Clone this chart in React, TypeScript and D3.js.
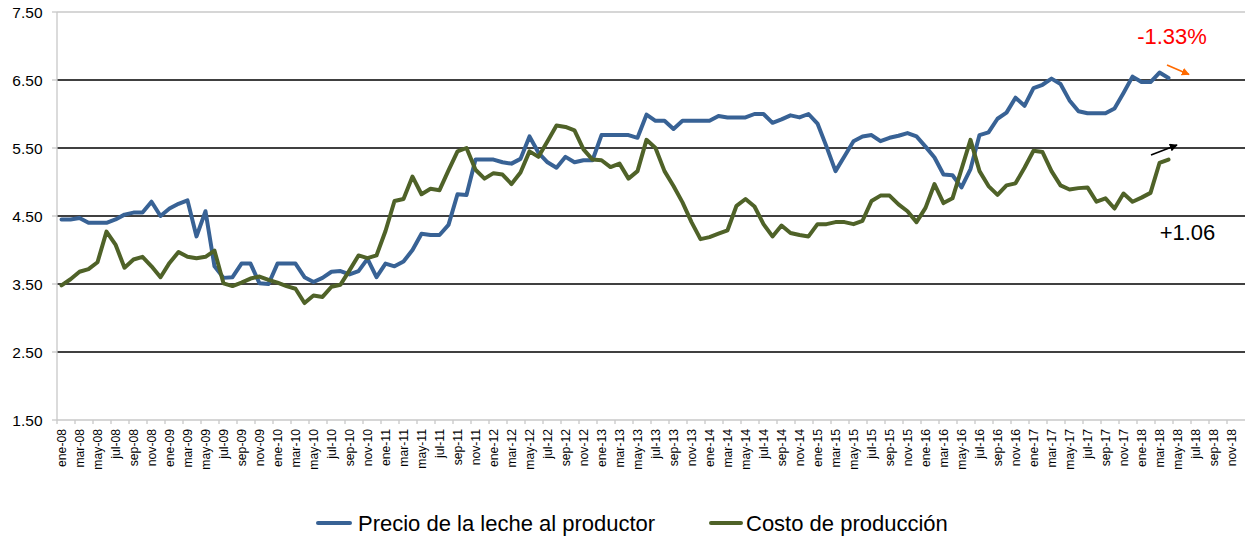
import React from "react";
import * as d3 from "d3";

const monthNames = ["ene", "feb", "mar", "abr", "may", "jun", "jul", "ago", "sep", "oct", "nov", "dic"];
const years = ["08", "09", "10", "11", "12", "13", "14", "15", "16", "17", "18"];
const categories: string[] = years.flatMap((y) => monthNames.map((m) => `${m}-${y}`));

const yTicks = [1.5, 2.5, 3.5, 4.5, 5.5, 6.5, 7.5];
const gridValues = [2.5, 3.5, 4.5, 5.5, 6.5];

const precio = [
  4.45, 4.45, 4.47, 4.40, 4.40, 4.40, 4.45, 4.52, 4.55, 4.55, 4.71, 4.50,
  4.61, 4.68, 4.73, 4.20, 4.57, 3.76, 3.59, 3.60, 3.80, 3.80, 3.51, 3.50,
  3.80, 3.80, 3.80, 3.60, 3.53, 3.59, 3.68, 3.69, 3.64, 3.69, 3.87, 3.60,
  3.80, 3.76, 3.83, 4.00, 4.24, 4.22, 4.22, 4.37, 4.82, 4.81, 5.33, 5.33,
  5.33, 5.29, 5.27, 5.34, 5.67, 5.43, 5.29, 5.21, 5.37, 5.29, 5.32, 5.32,
  5.69, 5.69, 5.69, 5.69, 5.65, 5.99, 5.90, 5.90, 5.78, 5.90, 5.90, 5.90,
  5.90, 5.97, 5.95, 5.95, 5.95, 6.00, 6.00, 5.87, 5.92, 5.98, 5.95, 6.00,
  5.86, 5.52, 5.16, 5.38, 5.60, 5.67, 5.69, 5.60, 5.65, 5.68, 5.72, 5.67,
  5.52, 5.36, 5.11, 5.10, 4.92, 5.19, 5.69, 5.73, 5.93, 6.02, 6.24, 6.12,
  6.38, 6.43, 6.52, 6.44, 6.20, 6.04, 6.01, 6.01, 6.01, 6.08, 6.31, 6.55,
  6.47, 6.47, 6.61, 6.53,
];

const costo = [
  3.48, 3.57, 3.68, 3.72, 3.82, 4.27, 4.08, 3.74, 3.86, 3.90, 3.76, 3.60,
  3.81, 3.97, 3.90, 3.88, 3.90, 3.99, 3.51, 3.47, 3.52, 3.58, 3.61, 3.56,
  3.52, 3.47, 3.43, 3.22, 3.33, 3.31, 3.46, 3.49, 3.70, 3.92, 3.88, 3.92,
  4.28, 4.72, 4.75, 5.08, 4.82, 4.90, 4.88, 5.17, 5.45, 5.50, 5.18, 5.05,
  5.13, 5.11, 4.97, 5.14, 5.45, 5.37, 5.60, 5.83, 5.81, 5.76, 5.48, 5.33,
  5.32, 5.22, 5.27, 5.05, 5.16, 5.62, 5.50, 5.16, 4.94, 4.70, 4.41, 4.16,
  4.19, 4.24, 4.29, 4.65, 4.75, 4.64, 4.38, 4.20, 4.36, 4.25, 4.22, 4.20,
  4.38, 4.38, 4.41, 4.41, 4.38, 4.43, 4.72, 4.80, 4.80, 4.67, 4.57, 4.41,
  4.62, 4.97, 4.69, 4.76, 5.19, 5.62, 5.16, 4.94, 4.81, 4.95, 4.98, 5.21,
  5.46, 5.44, 5.16, 4.95, 4.89, 4.91, 4.92, 4.71, 4.76, 4.61, 4.83, 4.71,
  4.77, 4.84, 5.28, 5.33,
];

const seriesNames = ["Precio de la leche al productor", "Costo de producción"];
const seriesColors = ["#386295", "#4F6228"];

const W = 1245;
const H = 540;
const FONT = "'Liberation Sans', Arial, sans-serif";

export default function App() {
  const x = d3.scaleBand<string>().domain(categories).range([57, 1245]).paddingInner(0).paddingOuter(0);
  const y = d3.scaleLinear().domain([1.5, 7.5]).range([420, 12]);
  const cx = (i: number) => (x(categories[i]) as number) + x.bandwidth() / 2;

  const line = d3
    .line<number>()
    .x((_, i) => cx(i))
    .y((d) => y(d));

  const series = [precio, costo];

  return (
    <svg
      width={W}
      height={H}
      style={{ position: "absolute", left: 0, top: 0, background: "#fff" }}
      fontFamily={FONT}
    >
      <defs>
        <marker id="arrOrange" viewBox="0 0 10 10" refX="9" refY="5" markerWidth="5" markerHeight="5" orient="auto">
          <path d="M0,0 L10,5 L0,10 z" fill="#FF6A00" />
        </marker>
        <marker id="arrBlack" viewBox="0 0 10 10" refX="9" refY="5" markerWidth="5" markerHeight="5" orient="auto">
          <path d="M0,0 L10,5 L0,10 z" fill="#000" />
        </marker>
      </defs>
      <rect x={0} y={0} width={W} height={H} fill="#fff" />

      {/* plot frame top and axes */}
      <line x1={57} x2={1245} y1={y(7.5)} y2={y(7.5)} stroke="#c8c8c8" strokeWidth={1.3} />
      {gridValues.map((v) => (
        <line key={v} x1={57} x2={1245} y1={y(v)} y2={y(v)} stroke="#000" strokeWidth={1.3} />
      ))}
      <line x1={57} x2={1245} y1={y(1.5)} y2={y(1.5)} stroke="#c8c8c8" strokeWidth={1.3} />
      <line x1={57} x2={57} y1={y(7.5)} y2={y(1.5)} stroke="#c8c8c8" strokeWidth={1.3} />

      {/* y ticks */}
      {yTicks.map((v) => (
        <g key={v}>
          <line x1={52} x2={57} y1={y(v)} y2={y(v)} stroke="#c8c8c8" strokeWidth={1.3} />
          <text x={42.5} y={y(v)} dy="0.36em" textAnchor="end" fontSize={15.5} fill="#000">
            {v.toFixed(2)}
          </text>
        </g>
      ))}

      {/* x ticks and labels */}
      {categories.map((c, i) =>
        i % 2 === 0 ? (
          <g key={c}>
            <line x1={x(c)} x2={x(c)} y1={420} y2={424} stroke="#c8c8c8" strokeWidth={1.3} />
            <text
              transform={`translate(${cx(i)},429) rotate(-90)`}
              textAnchor="end"
              dy="0.35em"
              fontSize={12.2}
              fill="#000"
            >
              {c}
            </text>
          </g>
        ) : null
      )}

      {/* series */}
      {series.map((s, k) => (
        <path
          key={k}
          d={line(s) || ""}
          fill="none"
          stroke={seriesColors[k]}
          strokeWidth={4}
          strokeLinejoin="round"
          strokeLinecap="round"
        />
      ))}

      {/* annotations */}
      <text x={1172} y={43.5} textAnchor="middle" fontSize={22} fill="#FF0000">
        -1.33%
      </text>
      <line x1={1167} y1={65} x2={1189} y2={74.5} stroke="#FF6A00" strokeWidth={1.6} markerEnd="url(#arrOrange)" />
      <line x1={1151} y1={155} x2={1177} y2={145} stroke="#000" strokeWidth={1.6} markerEnd="url(#arrBlack)" />
      <text x={1187.5} y={240} textAnchor="middle" fontSize={22} fill="#000">
        +1.06
      </text>

      {/* legend */}
      <line x1={318} x2={350} y1={523} y2={523} stroke={seriesColors[0]} strokeWidth={4} strokeLinecap="round" />
      <text x={358} y={531} fontSize={22} fill="#000">
        {seriesNames[0]}
      </text>
      <line x1={711} x2={741} y1={523} y2={523} stroke={seriesColors[1]} strokeWidth={4} strokeLinecap="round" />
      <text x={746} y={531} fontSize={22} fill="#000">
        {seriesNames[1]}
      </text>
    </svg>
  );
}
